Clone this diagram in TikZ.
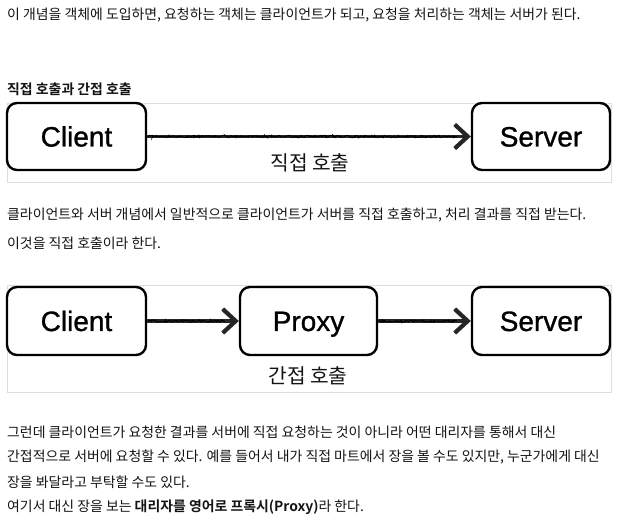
\documentclass[tikz,border=0pt]{standalone}
\usepackage{fontspec}
\setmainfont{Liberation Sans}
\newfontfamily\kr{Noto Sans CJK KR}[BoldFont={Noto Sans CJK KR Bold}]
\newfontfamily\lab{Liberation Sans}[FakeBold=1.0]
\usetikzlibrary{arrows.meta,decorations.pathmorphing}
\definecolor{framegray}{HTML}{DDDDDD}
\definecolor{txt}{HTML}{141414}
\tikzset{
  body/.style={anchor=west,inner sep=0pt,font=\kr\fontsize{13.9}{16}\selectfont,text=txt},
  heading/.style={anchor=west,inner sep=0pt,font=\kr\bfseries\fontsize{13.9}{16}\selectfont,text=txt},
  frame/.style={draw=framegray,line width=1pt,anchor=north west,inner sep=0pt},
  boxnode/.style={draw=black,line width=2.4pt,rounded corners=10pt,inner sep=0pt,
    text height=20pt,text depth=0pt,font=\lab\fontsize{28}{32}\selectfont},
  calllabel/.style={inner sep=0pt,font=\kr\fontsize{20.3}{24}\selectfont,text=txt},
  callarrow/.style={line width=3.2pt,black!85,-{Straight Barb[length=13pt,width=24pt,line width=4.2pt]}},
  texture/.style={line width=1pt,black,decorate,decoration={random steps,segment length=1.2pt,amplitude=1.1pt}},
}
\begin{document}
\begin{tikzpicture}[x=1pt,y=-1pt]
\useasboundingbox (0,0) rectangle (621,526);
\fill[white] (0,0) rectangle (621,526);
% text top
\node[body] (t1) at (7,15) {이 개념을 객체에 도입하면, 요청하는 객체는 클라이언트가 되고, 요청을 처리하는 객체는 서버가 된다.};
\node[heading] (h1) at (7,89) {직접 호출과 간접 호출};
% frame 1
\node[frame,minimum width=604pt,minimum height=79pt] (f1) at (7,103) {};
\node[boxnode,minimum width=139pt,minimum height=67pt] (c1) at (76.5,136.5) {Client};
\node[boxnode,minimum width=138pt,minimum height=67pt] (s1) at (541,136.5) {Server};
\draw[callarrow] (c1.east) -- (s1.west);
\draw[texture] ([xshift=1pt]c1.east) -- ([xshift=-14pt]s1.west);
\node[calllabel] (l1) at (310,163) {직접 호출};
% middle text
\node[body] (t2) at (7,215) {클라이언트와 서버 개념에서 일반적으로 클라이언트가 서버를 직접 호출하고, 처리 결과를 직접 받는다.};
\node[body] (t3) at (7,243) {이것을 직접 호출이라 한다.};
% frame 2
\node[frame,minimum width=604pt,minimum height=107pt] (f2) at (7,285) {};
\node[boxnode,minimum width=139pt,minimum height=68pt] (c2) at (76.5,321) {Client};
\node[boxnode,minimum width=137pt,minimum height=68pt] (p2) at (308.5,321) {Proxy};
\node[boxnode,minimum width=138pt,minimum height=68pt] (s2) at (541,321) {Server};
\draw[callarrow] (c2.east) -- (p2.west);
\draw[callarrow] (p2.east) -- (s2.west);
\draw[texture] ([xshift=1pt]c2.east) -- ([xshift=-14pt]p2.west);
\draw[texture] ([xshift=1pt]p2.east) -- ([xshift=-14pt]s2.west);
\node[calllabel] (l2) at (308,376) {간접 호출};
% bottom text
\node[body] (b1) at (7,432) {그런데 클라이언트가 요청한 결과를 서버에 직접 요청하는 것이 아니라 어떤 대리자를 통해서 대신};
\node[body] (b2) at (7,457) {간접적으로 서버에 요청할 수 있다. 예를 들어서 내가 직접 마트에서 장을 볼 수도 있지만, 누군가에게 대신};
\node[body] (b3) at (7,482) {장을 봐달라고 부탁할 수도 있다.};
\node[body] (b4) at (7,507) {여기서 대신 장을 보는 \textbf{대리자를 영어로 프록시(Proxy)}라 한다.};
\end{tikzpicture}
\end{document}
